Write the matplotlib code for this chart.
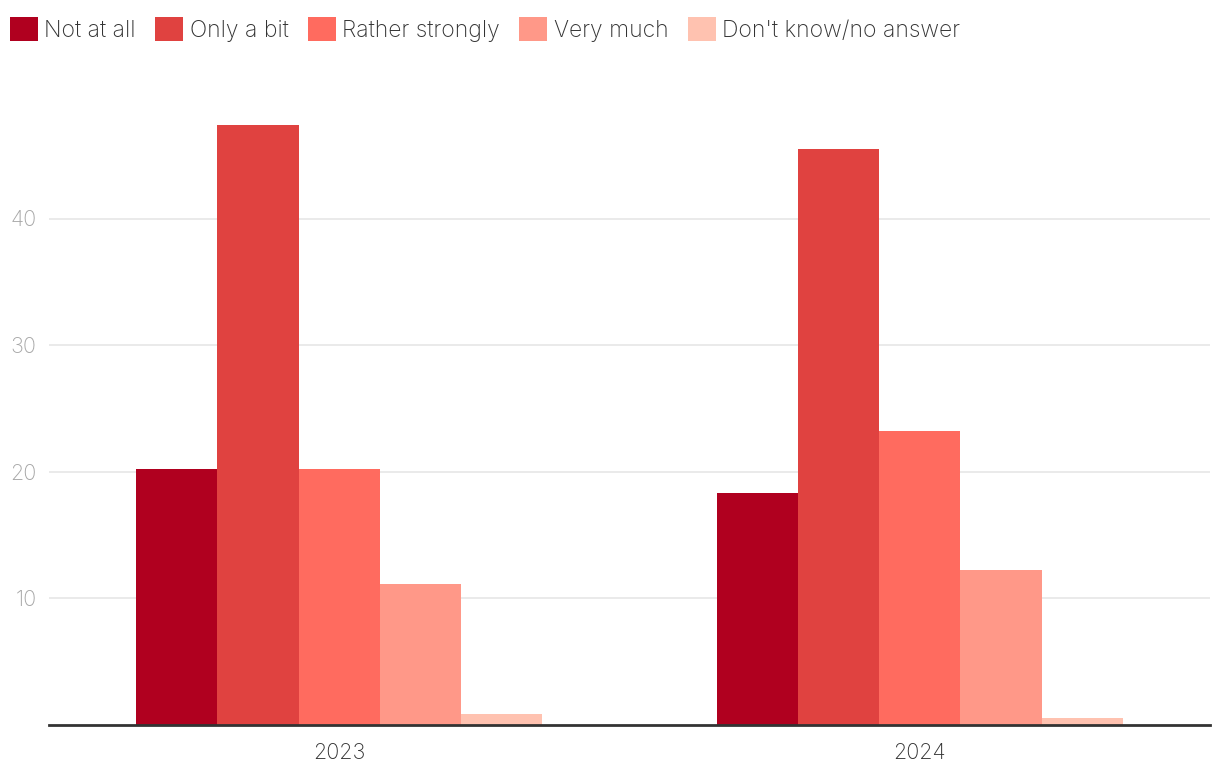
import matplotlib.pyplot as plt
import numpy as np
from matplotlib.patches import Patch

years = ['2023', '2024']
answers = ['Not at all', 'Only a bit', 'Rather strongly', 'Very much', "Don't know/no answer"]
not_at_all = [20.2, 18.3]
only_a_bit = [47.4, 45.5]
rather_strongly = [20.2, 23.2]
very_much = [11.1, 12.2]
dont_know = [0.8, 0.5]
colors = ['#b0001f', '#e04240', '#ff6b5f', '#ff9888', '#ffc2b0']

plt.rcParams['font.family'] = ['Inter', 'DejaVu Sans']

series = [not_at_all, only_a_bit, rather_strongly, very_much, dont_know]

fig = plt.figure(figsize=(12.2, 7.82), dpi=100)
ax = fig.add_axes([49 / 1220, 1 - 724.5 / 782, (1210 - 49) / 1220, (724.5 - 92) / 782])

x = np.arange(len(years))
w = 0.14
for i, (vals, c) in enumerate(zip(series, colors)):
    ax.bar(x + (i - 2) * w, vals, width=w, color=c, label=answers[i], zorder=2)

ax.set_xlim(-0.5, 1.5)
ax.set_ylim(0, 50)
ax.set_yticks([10, 20, 30, 40])
ax.set_xticks(x)
ax.set_xticklabels(years)
ax.grid(axis='y', color='#e6e6e6', linewidth=1.2, zorder=0)
for s in ['left', 'right', 'top']:
    ax.spines[s].set_visible(False)
ax.spines['bottom'].set_color('#333333')
ax.spines['bottom'].set_linewidth(2)
ax.spines['bottom'].set_zorder(3)
ax.tick_params(axis='y', length=0, pad=9, labelsize=15.5, labelcolor='#a6a6a6')
ax.tick_params(axis='x', length=0, pad=13, labelsize=15.5, labelcolor='#333333')
for lab in ax.get_yticklabels() + ax.get_xticklabels():
    lab.set_fontweight('light')

handles = [Patch(facecolor=c, edgecolor='none') for c in colors]
leg = fig.legend(handles, answers, loc='upper left', bbox_to_anchor=(-0.006, 1.0),
                 ncol=5, frameon=False, fontsize=16.5, handlelength=1.22, handleheight=1.22,
                 handletextpad=0.28, columnspacing=0.85, borderaxespad=0.3, borderpad=0.45)
for t in leg.get_texts():
    t.set_color('#333333')
    t.set_fontweight('light')

fig.savefig('out.png', dpi=100)
